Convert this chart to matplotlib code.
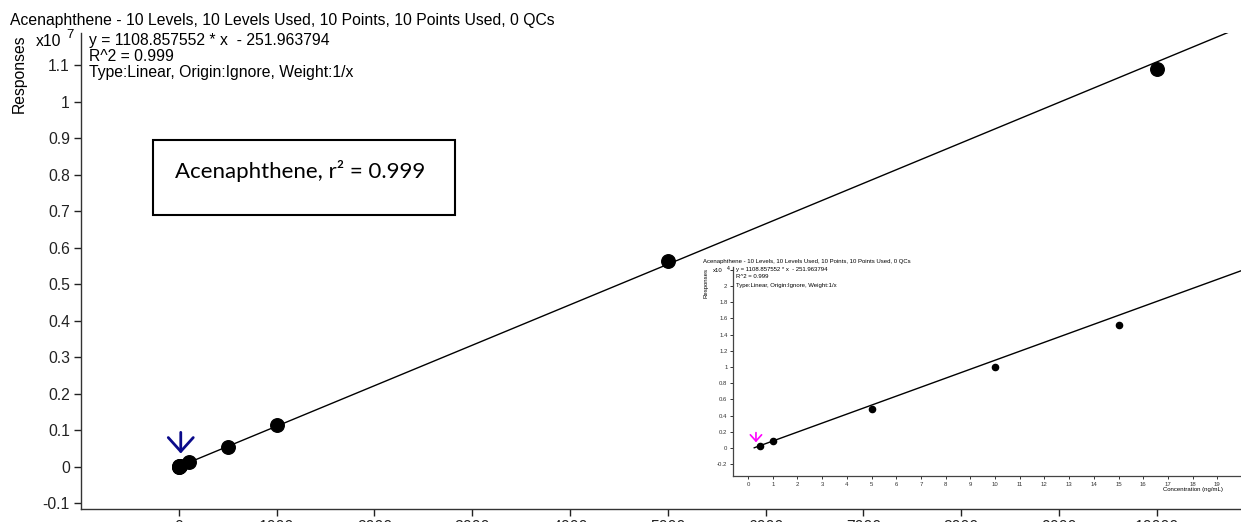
import numpy as np
import matplotlib
matplotlib.use('Agg')
import matplotlib.pyplot as plt
from matplotlib.patches import Rectangle, FancyArrowPatch

plt.rcParams['font.family'] = ['Liberation Sans', 'DejaVu Sans']

# calibration levels (ng/mL) and instrument responses
conc = [0.5, 1, 5, 10, 15, 100, 500, 1000, 5000, 10000]
resp = [300, 850, 4850, 10000, 15200, 115000, 550000, 1140000, 5630000, 10890000]

slope = 1108.857552
intercept = -251.963794

title = 'Acenaphthene - 10 Levels, 10 Levels Used, 10 Points, 10 Points Used, 0 QCs'
eq_lines = ['y = 1108.857552 * x  - 251.963794', 'R^2 = 0.999',
            'Type:Linear, Origin:Ignore, Weight:1/x']
box_label = 'Acenaphthene, r\u00b2 = 0.999'

main_xticks = list(range(0, 10001, 1000))
main_yticks = [-0.1, 0, 0.1, 0.2, 0.3, 0.4, 0.5, 0.6, 0.7, 0.8, 0.9, 1, 1.1]
main_ylabels = ['-0.1', '0', '0.1', '0.2', '0.3', '0.4', '0.5', '0.6', '0.7',
                '0.8', '0.9', '1', '1.1']
inset_xticks = list(range(0, 20))
inset_yticks = [-0.2, 0, 0.2, 0.4, 0.6, 0.8, 1, 1.2, 1.4, 1.6, 1.8, 2, 2.2]
inset_ylabels = ['-0.2', '0', '0.2', '0.4', '0.6', '0.8', '1', '1.2', '1.4',
                 '1.6', '1.8', '2', '']

W, H = 1241, 522
fig = plt.figure(figsize=(W / 100, H / 100), dpi=100)


def fx(x):
    return x / W


def fy(y):
    return 1 - y / H


def axes_px(left, top, right, bottom):
    return [fx(left), fy(bottom), fx(right) - fx(left), fy(top) - fy(bottom)]


def down_arrow(ax, x, y_tip, y_tail, color, lw, scale):
    arr = FancyArrowPatch((x, y_tail), (x, y_tip),
                          arrowstyle='->, head_length=0.5, head_width=0.45',
                          mutation_scale=scale, color=color, lw=lw,
                          shrinkA=0, shrinkB=0, zorder=4)
    ax.add_patch(arr)


conc = np.array(conc, dtype=float)
resp = np.array(resp, dtype=float)
xfit = np.array([0.25, 12000])
yfit = slope * xfit + intercept

# ---- main calibration curve, responses in units of 1e7
ax = fig.add_axes(axes_px(81, 33, 1241, 509))
ax.plot(xfit, yfit / 1e7, color='black', lw=1.0, zorder=2)
ax.scatter(conc, resp / 1e7, s=95, color='black', zorder=3, clip_on=False)
down_arrow(ax, 20, 0.036, 0.094, '#0a0a8a', 2.0, 20)
ax.set_xlim(-1000, 10860)
ax.set_ylim(-0.116, 1.188)
ax.set_xticks(main_xticks)
ax.set_xticklabels([str(t) for t in main_xticks])
ax.set_yticks(main_yticks)
ax.set_yticklabels(main_ylabels)
for s in ['top', 'right']:
    ax.spines[s].set_visible(False)
for s in ['left', 'bottom']:
    ax.spines[s].set_linewidth(1.0)
    ax.spines[s].set_color('#333333')
ax.tick_params(direction='out', length=5, width=1.0, labelsize=11.3, pad=3,
               colors='#222222')
ax.patch.set_alpha(0)

fs = 11.3
fig.text(fx(10), fy(25), title, fontsize=fs, va='baseline', ha='left')
fig.text(fx(19), fy(74), 'Responses', fontsize=fs, rotation=90,
         va='center', ha='center')
fig.text(fx(36), fy(45.5), 'x10', fontsize=fs, va='baseline', ha='left')
fig.text(fx(66), fy(38), '7', fontsize=9.5, va='baseline', ha='left')
for i, line in enumerate(eq_lines):
    fig.text(fx(89), fy(45.5 + 15.5 * i), line, fontsize=fs,
             va='baseline', ha='left')

# text box with the r^2 value
box_l, box_t, box_r, box_b = 153, 140, 455, 215
fig.text(fx(175), fy(171), box_label, fontsize=16,
         family=['Lato', 'DejaVu Sans'], va='center', ha='left')
fig.patches.append(Rectangle((fx(box_l), fy(box_b)), fx(box_r) - fx(box_l),
                             fy(box_t) - fy(box_b), transform=fig.transFigure,
                             fill=False, edgecolor='black', lw=1.5))

# ---- low-level inset, responses in units of 1e4
low = conc <= 15
ins = fig.add_axes(axes_px(733, 267, 1241, 476))
ins.plot(xfit, yfit / 1e4, color='black', lw=1.0, zorder=2)
ins.scatter(conc[low], resp[low] / 1e4, s=20, color='black', zorder=3)
down_arrow(ins, 0.32, 0.07, 0.19, '#ff00ff', 1.2, 9)
ins.set_xlim(-0.61, 19.96)
ins.set_ylim(-0.346, 2.235)
ins.set_xticks(inset_xticks)
ins.set_xticklabels([str(t) for t in inset_xticks])
ins.set_yticks(inset_yticks)
ins.set_yticklabels(inset_ylabels)
for s in ['top', 'right']:
    ins.spines[s].set_visible(False)
for s in ['left', 'bottom']:
    ins.spines[s].set_linewidth(0.9)
    ins.spines[s].set_color('#444444')
ins.tick_params(direction='out', length=2, width=0.7, labelsize=4.3, pad=2,
                colors='#333333')
ins.patch.set_alpha(0)

fig.text(fx(703), fy(262), title, fontsize=4.3, va='center', ha='left')
fig.text(fx(706), fy(283), 'Responses', fontsize=4.3, rotation=90,
         va='center', ha='center')
fig.text(fx(713), fy(271), 'x10', fontsize=4.3, va='center', ha='left')
fig.text(fx(727), fy(268), '4', fontsize=3.8, va='center', ha='left')
for i, line in enumerate(eq_lines):
    fig.text(fx(736), fy(269 + 8 * i), line, fontsize=4.3, va='center', ha='left')
fig.text(fx(1163), fy(490), 'Concentration (ng/mL)', fontsize=4.3,
         va='center', ha='left')

fig.savefig('out.png', dpi=100, facecolor='white')
